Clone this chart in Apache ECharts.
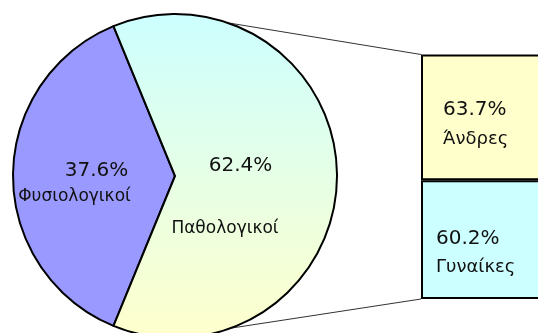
<!DOCTYPE html>
<html>
<head>
<meta charset="utf-8">
<script src="https://cdn.jsdelivr.net/npm/echarts@6/dist/echarts.min.js"></script>
<style>
  html, body { margin: 0; padding: 0; background: #ffffff; }
  #chart { width: 538px; height: 333px; }
</style>
</head>
<body>
<div id="chart"></div>
<script>
// Pie: share of normal vs pathological results
const pieCategories = ['Φυσιολογικοί', 'Παθολογικοί'];
const pieValues = [37.6, 62.4];

// Breakdown bar: pathological share by sex
const barCategories = ['Άνδρες', 'Γυναίκες'];
const barValues = [63.7, 60.2];

const FONT = 'DejaVu Sans';
const pieCenter = [175, 176];
const pieRadius = 162;
const gridLeft = 421;

const pieSum = pieValues.reduce((a, b) => a + b, 0);
const barSum = barValues.reduce((a, b) => a + b, 0);
const startAngle = 180 + (pieValues[0] / pieSum) * 360 / 2;

const pieColors = [
  '#9999ff',
  {
    type: 'linear', x: 0, y: 0, x2: 0, y2: 1,
    colorStops: [
      { offset: 0, color: '#ccffff' },
      { offset: 0.5, color: '#e6ffe6' },
      { offset: 1, color: '#ffffcc' }
    ]
  }
];

const pieRich = [
  {
    p: { fontFamily: FONT, fontSize: 20, color: '#111', lineHeight: 26, padding: [0, 0, 0, 5] },
    n: { fontFamily: FONT, fontSize: 17, color: '#111', lineHeight: 26, padding: [0, 39, 0, 0] }
  },
  {
    p: { fontFamily: FONT, fontSize: 20, color: '#111', lineHeight: 26, padding: [0, 0, 0, 31] },
    s: { fontFamily: FONT, fontSize: 10, lineHeight: 37 },
    n: { fontFamily: FONT, fontSize: 17, color: '#111', lineHeight: 26 }
  }
];
const pieLabelShift = [[1.5, 4], [-17, 10.5]];

const barColors = { 'Άνδρες': '#ffffcc', 'Γυναίκες': '#ccffff' };
const barLabelPos = { 'Άνδρες': [22, 41], 'Γυναίκες': [15, 44] };

const fmt = v => v.toFixed(1) + '%';

// stack from the bottom up: last category sits at the bottom
const barSeries = barCategories.map((name, i) => ({ name, value: barValues[i] }))
  .reverse()
  .map(d => ({
    type: 'bar',
    name: d.name,
    stack: 'split',
    barWidth: '100%',
    silent: true,
    itemStyle: { color: barColors[d.name], borderColor: '#000', borderWidth: 2 },
    label: {
      show: true,
      position: barLabelPos[d.name],
      align: 'left',
      verticalAlign: 'top',
      formatter: '{p|' + fmt(d.value) + '}\n{n|' + d.name + '}',
      rich: {
        p: { fontFamily: FONT, fontSize: 20, color: '#111', lineHeight: 29 },
        n: { fontFamily: FONT, fontSize: 18, color: '#111', lineHeight: 29 }
      }
    },
    data: [d.value]
  }));

const chart = echarts.init(document.getElementById('chart'), null, { renderer: 'canvas' });

chart.setOption({
  animation: false,
  backgroundColor: '#ffffff',
  grid: {
    left: gridLeft, top: 54.5, bottom: 34, width: 260,
    outerBoundsMode: 'none', containLabel: false
  },
  xAxis: { type: 'category', data: ['split'], show: false },
  yAxis: { type: 'value', min: 0, max: barSum, show: false },
  series: [
    {
      type: 'pie',
      center: pieCenter,
      radius: pieRadius,
      startAngle: startAngle,
      clockwise: true,
      silent: true,
      z: 3,
      label: {
        show: true,
        position: 'inside',
        align: 'center',
        formatter: p => p.dataIndex === 0
          ? '{p|' + fmt(p.value) + '}\n{n|' + p.name + '}'
          : '{p|' + fmt(p.value) + '}\n{s| }\n{n|' + p.name + '}'
      },
      labelLayout: p => ({ dx: pieLabelShift[p.dataIndex][0], dy: pieLabelShift[p.dataIndex][1] }),
      labelLine: { show: false },
      data: pieCategories.map((name, i) => ({
        name,
        value: pieValues[i],
        itemStyle: { color: pieColors[i], borderColor: '#000', borderWidth: 2 },
        label: { rich: pieRich[i] }
      }))
    },
    ...barSeries
  ]
});

// connector lines from the pie rim to the left corners of the breakdown bar
const rimPoint = deg => {
  const a = deg * Math.PI / 180;
  return [pieCenter[0] + pieRadius * Math.cos(a), pieCenter[1] - pieRadius * Math.sin(a)];
};
const barTop = chart.convertToPixel({ yAxisIndex: 0 }, barSum);
const barBottom = chart.convertToPixel({ yAxisIndex: 0 }, 0);
const topRim = rimPoint(71);
const bottomRim = rimPoint(-70);

chart.setOption({
  graphic: [
    {
      type: 'line', z: 1, silent: true,
      shape: { x1: topRim[0], y1: topRim[1], x2: gridLeft, y2: barTop },
      style: { stroke: '#333', lineWidth: 1 }
    },
    {
      type: 'line', z: 1, silent: true,
      shape: { x1: bottomRim[0], y1: bottomRim[1], x2: gridLeft, y2: barBottom },
      style: { stroke: '#333', lineWidth: 1 }
    }
  ]
});
</script>
</body>
</html>
